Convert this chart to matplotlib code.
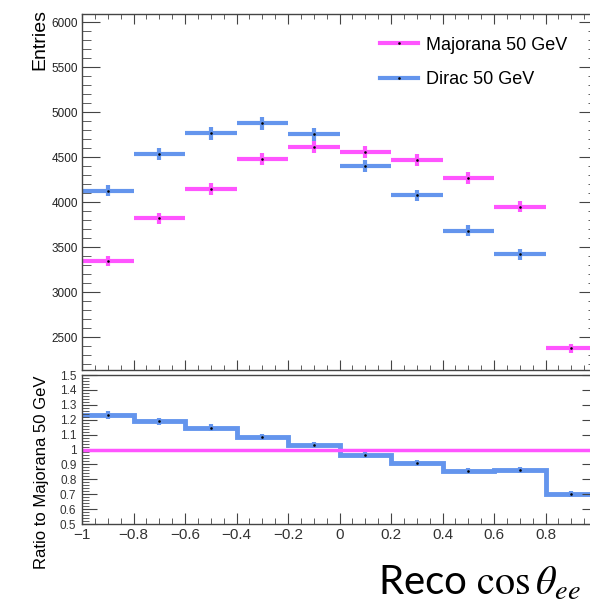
import numpy as np
import matplotlib
matplotlib.use("Agg")
from matplotlib import pyplot as plt
from matplotlib.ticker import MultipleLocator

plt.rcParams['font.family'] = ['Liberation Sans', 'DejaVu Sans']

# bin edges of Reco cos(theta_ee)
edges = [-1.0, -0.8, -0.6, -0.4, -0.2, 0.0, 0.2, 0.4, 0.6, 0.8, 1.0]

# entries per bin
majorana = [3344, 3819, 4144, 4478, 4611, 4552, 4463, 4263, 3948, 2374]
majorana_err = [58, 62, 64, 67, 68, 67, 67, 65, 63, 49]
dirac = [4126, 4533, 4763, 4874, 4752, 4400, 4074, 3681, 3419, 1662]
dirac_err = [64, 67, 69, 70, 69, 66, 64, 61, 58, 41]

# ratio Dirac / Majorana (lower panel)
ratio = [1.232, 1.188, 1.147, 1.084, 1.028, 0.964, 0.908, 0.859, 0.860, 0.702]
ratio_err = [0.029, 0.026, 0.024, 0.022, 0.021, 0.020, 0.019, 0.019, 0.020, 0.022]

pink = '#ff55ff'
blue = '#6495ed'
axcol = '#444444'

edges = np.array(edges)
centers = 0.5 * (edges[:-1] + edges[1:])
halfw = 0.5 * np.diff(edges)

fig = plt.figure(figsize=(5.9, 6.07), dpi=100)
ax1 = fig.add_axes([0.139, 0.3904, 0.873, 0.5865])
ax2 = fig.add_axes([0.139, 0.1367, 0.873, 0.2455])

# upper panel: points with x and y error bars
for vals, errs, col, lab in [(majorana, majorana_err, pink, 'Majorana 50 GeV'),
                             (dirac, dirac_err, blue, 'Dirac 50 GeV')]:
    ax1.errorbar(centers, vals, xerr=halfw, yerr=errs, fmt='none',
                 ecolor=col, elinewidth=3, capsize=0)
    ax1.plot(centers, vals, ls='none', marker='s', ms=0.8, color='black')
    ax1.plot([], [], color=col, lw=3, marker='s', ms=0.8, mfc='black',
             mec='black', label=lab)

ax1.set_xlim(-1, 1)
ax1.set_ylim(2133, 6089)
ax1.yaxis.set_major_locator(MultipleLocator(500))
ax1.yaxis.set_minor_locator(MultipleLocator(100))
ax1.xaxis.set_major_locator(MultipleLocator(0.2))
ax1.xaxis.set_minor_locator(MultipleLocator(0.05))
ax1.tick_params(axis='both', which='both', direction='in', top=True,
                right=True, labelbottom=False, colors=axcol, labelcolor='#222222')
ax1.tick_params(axis='y', which='major', length=13, labelsize=8.5, pad=3)
ax1.tick_params(axis='y', which='minor', length=6.5)
ax1.tick_params(axis='x', which='major', length=7)
ax1.tick_params(axis='x', which='minor', length=3.5)
ax1.set_ylabel('Entries', fontsize=14, loc='top')
ax1.yaxis.set_label_coords(-0.066, 1.014)

leg = ax1.legend(loc='upper left', bbox_to_anchor=(0.547, 0.982), frameon=False,
                 fontsize=13, handlelength=2.1, handletextpad=0.45,
                 labelspacing=0.95)

# lower panel: ratio
ax2.axhline(1.0, color=pink, lw=2.5)
ax2.stairs(ratio, edges, baseline=None, color=blue, lw=3.5)
ax2.errorbar(centers, ratio, yerr=ratio_err, fmt='none', ecolor=blue,
             elinewidth=3, capsize=0)
ax2.plot(centers, ratio, ls='none', marker='s', ms=0.8, color='black')

ax2.set_xlim(-1, 1)
ax2.set_ylim(0.5, 1.5)
ax2.yaxis.set_minor_locator(MultipleLocator(0.02))
ax2.xaxis.set_minor_locator(MultipleLocator(0.05))
ax2.set_yticks(np.arange(0.5, 1.51, 0.1))
ax2.set_yticklabels(['0.5', '0.6', '0.7', '0.8', '0.9', '1',
                     '1.1', '1.2', '1.3', '1.4', '1.5'])
ax2.set_xticks(np.arange(-1, 0.81, 0.2))
ax2.set_xticklabels(['\u22121', '\u22120.8', '\u22120.6', '\u22120.4',
                     '\u22120.2', '0', '0.2', '0.4', '0.6', '0.8'])
ax2.tick_params(axis='both', which='both', direction='in', right=True,
                colors=axcol, labelcolor='#333333')
ax2.tick_params(axis='y', which='major', length=11, labelsize=8.5, pad=4)
ax2.tick_params(axis='y', which='minor', length=5)
ax2.tick_params(axis='x', which='major', length=8, labelsize=11, pad=3)
ax2.tick_params(axis='x', which='minor', length=4)
ax2.set_ylabel('Ratio to Majorana 50 GeV', fontsize=12, loc='top', labelpad=8)

for ax in (ax1, ax2):
    for s in ax.spines.values():
        s.set_color(axcol)
        s.set_linewidth(1.0)

fig.text(378 / 590, 1 - 595 / 607, r'Reco $\cos\theta_{ee}$', fontsize=29,
         family='Lato', math_fontfamily='stix', ha='left', va='baseline')

fig.savefig('out.png', dpi=100)
